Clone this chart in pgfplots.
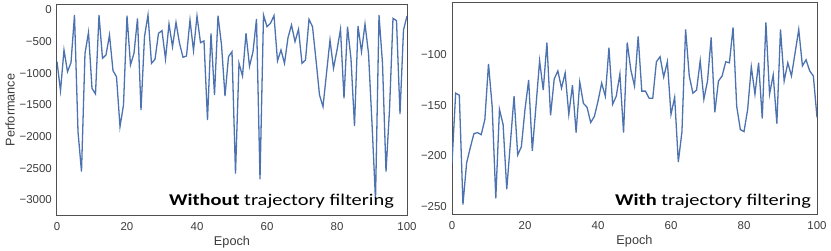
\documentclass[border=0pt]{standalone}
\usepackage{pgfplots}
\pgfplotsset{compat=1.18}
\usepackage{fontspec}
\setmainfont{Liberation Sans}
\newfontfamily\calibri[FakeStretch=1.24]{Carlito}
\definecolor{sbblue}{RGB}{76,114,176}
\definecolor{txt}{RGB}{60,60,60}
\definecolor{frm}{RGB}{80,80,80}

\begin{document}
\begin{tikzpicture}
\path[use as bounding box] (0bp,0bp) rectangle (831bp,251bp);
\pgfplotsset{every axis/.append style={
  scale only axis,
  axis line style={frm, line width=1bp},
  major tick length=0pt,
  tick label style={font=\fontsize{11.5}{12}\selectfont, text=txt},
  label style={font=\fontsize{12.75}{14}\selectfont, text=txt},
  xmin=0, xmax=100,
  xtick={0,20,40,60,80,100},
  xticklabels={0,20,40,60,80,100},
  xticklabel style={anchor=base, inner sep=0pt, yshift=-15bp},
  yticklabel style={anchor=east, inner sep=0pt, xshift=-5bp},
  x label style={at={(axis description cs:0.5,0)}, anchor=base, yshift=-30bp},
}}

\begin{axis}[at={(57bp,36bp)}, anchor=south west, width=350bp, height=210bp,
  ymin=-3237, ymax=79,
  ytick={-3000,-2500,-2000,-1500,-1000,-500,0},
  yticklabels={−3000,−2500,−2000,−1500,−1000,−500,0},
  xlabel={Epoch}, ylabel={Performance},
  y label style={at={(axis description cs:-0.134,0.5)}, anchor=center},
]
\addplot[sbblue, line width=1.3bp] table {
0 -816
1 -1274
2 -632
3 -974
4 -832
5 -79
6 -1921
7 -2553
8 -684
9 -353
10 -1237
11 -1326
12 -79
13 -763
14 -710
15 -395
16 -958
17 -1053
18 -1842
19 -1500
20 -89
21 -868
22 -684
23 -132
24 -1579
25 -421
26 -79
27 -842
28 -779
29 -368
30 -326
31 -774
32 -221
33 -579
34 -195
35 -526
36 -747
37 -726
38 -158
39 -642
40 -95
41 -516
42 -489
43 -1737
44 -368
45 -1342
46 -89
47 -550
48 -1358
49 -737
50 -658
51 -2584
52 -842
53 -1042
54 -368
55 -889
56 -658
57 -142
58 -2674
59 -79
60 -263
61 -210
62 -89
63 -805
64 -632
65 -842
66 -437
67 -237
68 -500
69 -305
70 -842
71 -789
72 -147
73 -263
74 -789
75 -1342
76 -1526
77 -1000
78 -474
79 -921
80 -632
81 -305
82 -1395
83 -263
84 -774
85 -1832
86 -253
87 -658
88 -221
89 -684
90 -1790
91 -3000
92 -79
93 -842
94 -2553
95 -1579
96 -132
97 -168
98 -1642
99 -316
100 -95
};
\node[anchor=base east, inner sep=0pt, font=\calibri\fontsize{16.5}{19}\selectfont] at (rel axis cs:0.963,0.043) {\textbf{Without} trajectory filtering};
\end{axis}

\begin{axis}[at={(452bp,37bp)}, anchor=south west, width=365bp, height=211bp,
  ymin=-257.4, ymax=-48.9,
  ytick={-250,-200,-150,-100},
  yticklabels={−250,−200,−150,−100},
  xlabel={Epoch},
]
\addplot[sbblue, line width=1.3bp] table {
0 -207
1 -138
2 -140
3 -248
4 -207
5 -192
6 -178
7 -177
8 -179
9 -164
10 -109
11 -151
12 -242
13 -154
14 -169
15 -233
16 -187
17 -141
18 -199
19 -191
20 -154
21 -125
22 -195
23 -151
24 -106
25 -135
26 -88
27 -160
28 -124
29 -116
30 -133
31 -118
32 -159
33 -130
34 -177
35 -127
36 -148
37 -152
38 -167
39 -161
40 -146
41 -128
42 -141
43 -93
44 -149
45 -141
46 -119
47 -177
48 -88
49 -115
50 -131
51 -82
52 -136
53 -136
54 -143
55 -143
56 -107
57 -102
58 -122
59 -107
60 -159
61 -142
62 -206
63 -176
64 -75
65 -121
66 -138
67 -135
68 -106
69 -144
70 -126
71 -83
72 -157
73 -126
74 -121
75 -107
76 -108
77 -73
78 -151
79 -174
80 -176
81 -154
82 -112
83 -139
84 -108
85 -163
86 -68
87 -139
88 -120
89 -168
90 -75
91 -126
92 -108
93 -121
94 -98
95 -75
96 -111
97 -105
98 -116
99 -121
100 -162
};
\node[anchor=base east, inner sep=0pt, font=\calibri\fontsize{16.5}{19}\selectfont] at (rel axis cs:0.984,0.038) {\textbf{With} trajectory filtering};
\end{axis}
\end{tikzpicture}
\end{document}
